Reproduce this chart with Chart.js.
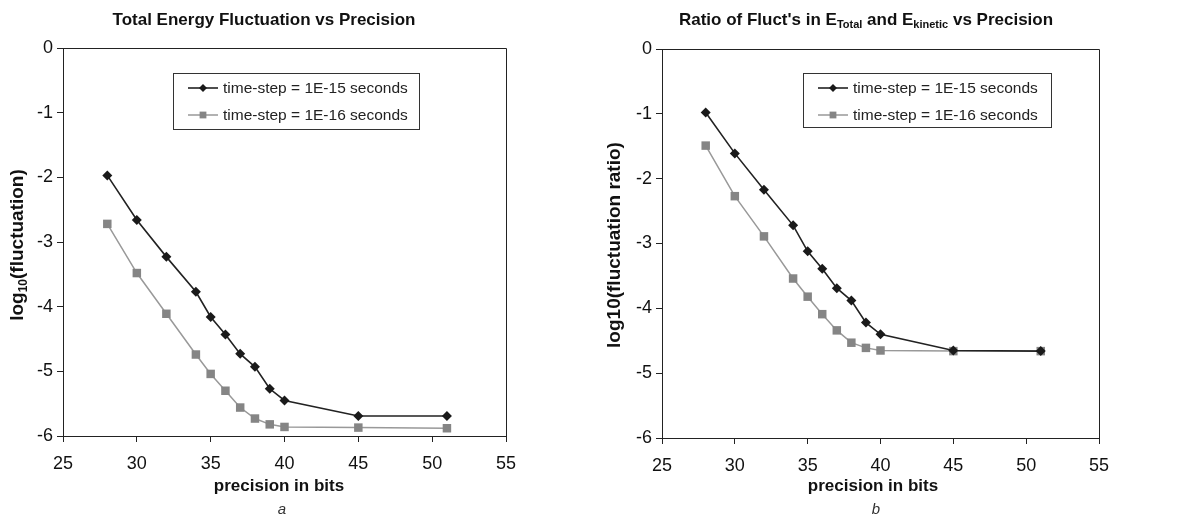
<!DOCTYPE html>
<html>
<head>
<meta charset="utf-8">
<script src="https://cdn.jsdelivr.net/npm/chart.js@4/dist/chart.umd.min.js"></script>
<style>
  body { margin: 0; background: #fff; }
  .row { display: flex; width: 1182px; height: 518px; }
  canvas { display: block; }
</style>
</head>
<body>
<div class="row">
  <canvas id="chart-a" width="591" height="518"></canvas>
  <canvas id="chart-b" width="591" height="518"></canvas>
</div>

<script>
// precision in bits (x values)
var bits = [28, 30, 32, 34, 35, 36, 37, 38, 39, 40, 45, 51];

// panel a: log10(fluctuation)
var fluct15 = [-1.97, -2.66, -3.23, -3.77, -4.16, -4.43, -4.73, -4.93, -5.27, -5.45, -5.69, -5.69];
var fluct16 = [-2.72, -3.48, -4.11, -4.74, -5.04, -5.30, -5.56, -5.73, -5.82, -5.86, -5.87, -5.88];

// panel b: log10(fluctuation ratio)
var ratio15 = [-0.98, -1.61, -2.17, -2.72, -3.12, -3.39, -3.69, -3.88, -4.22, -4.40, -4.65, -4.66];
var ratio16 = [-1.49, -2.27, -2.89, -3.54, -3.82, -4.09, -4.34, -4.53, -4.61, -4.65, -4.66, -4.66];

var seriesLabels = ["time-step = 1E-15 seconds", "time-step = 1E-16 seconds"];

var FONT = "'Liberation Sans', Arial, sans-serif";

function toPoints(xs, ys) {
  return xs.map(function (x, i) { return { x: x, y: ys[i] }; });
}

// draw text made of pieces, some of them subscripts, centered on (x, y)
function drawRich(ctx, parts, x, y, size, rotate) {
  ctx.save();
  ctx.translate(x, y);
  if (rotate) ctx.rotate(-Math.PI / 2);
  var total = 0;
  parts.forEach(function (p) {
    ctx.font = "bold " + (p.sub ? Math.round(size * 0.62) : size) + "px " + FONT;
    total += ctx.measureText(p.t).width;
  });
  var cx = -total / 2;
  ctx.fillStyle = "#111";
  ctx.textBaseline = "middle";
  ctx.textAlign = "left";
  parts.forEach(function (p) {
    ctx.font = "bold " + (p.sub ? Math.round(size * 0.62) : size) + "px " + FONT;
    ctx.fillText(p.t, cx, p.sub ? size * 0.3 : 0);
    cx += ctx.measureText(p.t).width;
  });
  ctx.restore();
}

function drawMarker(ctx, style, x, y, r, color) {
  ctx.fillStyle = color;
  ctx.beginPath();
  if (style === "rectRot") {
    ctx.moveTo(x, y - r); ctx.lineTo(x + r, y); ctx.lineTo(x, y + r); ctx.lineTo(x - r, y);
  } else {
    var s = r * Math.SQRT1_2;
    ctx.rect(x - s, y - s, 2 * s, 2 * s);
  }
  ctx.closePath();
  ctx.fill();
}

// frame, titles and legend box
var decorPlugin = {
  id: "decor",
  afterDraw: function (chart) {
    var ctx = chart.ctx, a = chart.chartArea, o = chart.options.plugins.decor;
    ctx.save();
    ctx.strokeStyle = "#222";
    ctx.lineWidth = 1;
    ctx.beginPath();
    ctx.moveTo(a.left, a.top + 0.5); ctx.lineTo(a.right + 0.5, a.top + 0.5); ctx.lineTo(a.right + 0.5, a.bottom);
    ctx.stroke();

    drawRich(ctx, o.title, o.titleX, 20, 17, false);
    drawRich(ctx, o.yTitle, o.yTitleX, 245, 19, true);
    drawRich(ctx, [{ t: "precision in bits" }], o.xTitleX, 486, 17, false);

    ctx.font = "italic 15px " + FONT;
    ctx.fillStyle = "#333";
    ctx.textAlign = "center";
    ctx.textBaseline = "middle";
    ctx.fillText(o.caption, o.xTitleX + 3, 510);

    // legend
    var L = o.legend;
    ctx.strokeStyle = "#333";
    ctx.strokeRect(L.x + 0.5, L.y + 0.5, L.w, L.h);
    ctx.font = "15.5px " + FONT;
    ctx.textAlign = "left";
    chart.data.datasets.forEach(function (ds, i) {
      var yy = L.y + 15 + i * 27;
      ctx.strokeStyle = ds.borderColor;
      ctx.lineWidth = ds.borderWidth;
      ctx.beginPath();
      ctx.moveTo(L.x + 15, yy); ctx.lineTo(L.x + 45, yy);
      ctx.stroke();
      drawMarker(ctx, ds.pointStyle, L.x + 30, yy, ds.pointRadius * 0.8, ds.pointBackgroundColor);
      ctx.fillStyle = "#222";
      ctx.fillText(ds.label, L.x + 50, yy + 1);
    });
    ctx.restore();
  }
};

function makeChart(id, y15, y16, opts) {
  var ctx = document.getElementById(id);
  return new Chart(ctx, {
    type: "line",
    data: {
      datasets: [{
        label: seriesLabels[0],
        data: toPoints(bits, y15),
        borderColor: "#222",
        borderWidth: 1.6,
        pointStyle: "rectRot",
        pointRadius: 5,
        pointBackgroundColor: "#1a1a1a",
        pointBorderWidth: 0,
        tension: 0
      }, {
        label: seriesLabels[1],
        data: toPoints(bits, y16),
        borderColor: "#999",
        borderWidth: 1.5,
        pointStyle: "rect",
        pointRadius: 6,
        pointBackgroundColor: "#858585",
        pointBorderWidth: 0,
        tension: 0
      }]
    },
    options: {
      responsive: false,
      animation: false,
      layout: { padding: { top: opts.top, right: opts.right, left: 0, bottom: 0 } },
      plugins: {
        legend: { display: false },
        tooltip: { enabled: false },
        decor: opts
      },
      scales: {
        x: {
          type: "linear",
          min: 25, max: 55,
          ticks: { stepSize: 5, color: "#111", font: { family: FONT, size: 18 }, padding: 11 },
          grid: { drawOnChartArea: false, color: "#222", tickLength: 6 },
          border: { color: "#222" },
          afterFit: function (s) { s.height = opts.xHeight; }
        },
        y: {
          min: -6, max: 0,
          ticks: { stepSize: 1, color: "#111", font: { family: FONT, size: 18 }, padding: 4 },
          grid: { drawOnChartArea: false, color: "#222", tickLength: 6 },
          border: { color: "#222" },
          afterFit: function (s) { s.width = opts.yWidth; }
        }
      }
    },
    plugins: [decorPlugin]
  });
}

makeChart("chart-a", fluct15, fluct16, {
  top: 48, right: 85, yWidth: 63, xHeight: 82,
  title: [{ t: "Total Energy Fluctuation vs Precision" }],
  titleX: 264,
  yTitle: [{ t: "log" }, { t: "10", sub: true }, { t: "(fluctuation)" }],
  yTitleX: 18,
  xTitleX: 279,
  caption: "a",
  legend: { x: 173, y: 73, w: 246, h: 56 }
});

makeChart("chart-b", ratio15, ratio16, {
  top: 49, right: 83, yWidth: 71, xHeight: 80,
  title: [{ t: "Ratio of Fluct's in E" }, { t: "Total", sub: true }, { t: " and E" }, { t: "kinetic", sub: true }, { t: " vs Precision" }],
  titleX: 275,
  yTitle: [{ t: "log10(fluctuation ratio)" }],
  yTitleX: 24,
  xTitleX: 282,
  caption: "b",
  legend: { x: 212, y: 73, w: 248, h: 54 }
});
</script>
</body>
</html>
